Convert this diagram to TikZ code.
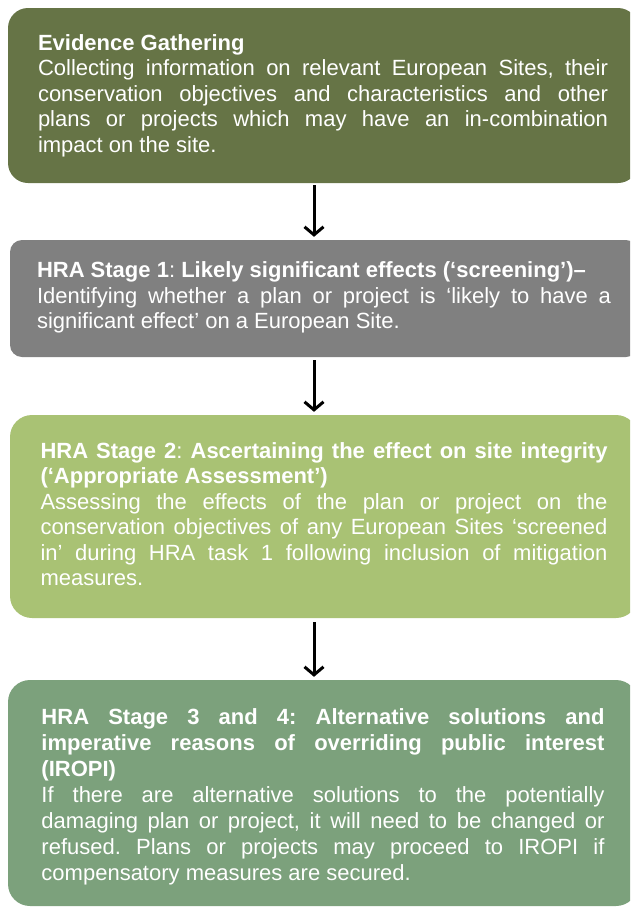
\documentclass[tikz,border=0pt]{standalone}
\usepackage{fontspec}
\setmainfont{Liberation Sans}
\usetikzlibrary{arrows.meta}

\definecolor{evidgreen}{RGB}{102,116,70}
\definecolor{stagegrey}{RGB}{128,128,128}
\definecolor{lightgreen}{RGB}{169,194,116}
\definecolor{sagegreen}{RGB}{124,161,124}

\tikzset{
	box/.style={rounded corners=20pt, text=white, align=justify, inner ysep=0pt,
		font=\fontsize{22}{25.5}\selectfont\frenchspacing},
	flow/.style={line width=3pt, -{Straight Barb[length=8pt,width=19pt,line width=3pt]}}
}

\begin{document}
\begin{tikzpicture}[x=1pt,y=-1pt]
		\clip (0,0) rectangle (630,908);
		\node[box, fill=evidgreen, text width=570pt, inner xsep=30pt, minimum height=175pt] (evid) at (323,95.5)
			{\textbf{Evidence Gathering}\\
			Collecting information on relevant European Sites, their\linebreak
			conservation objectives and characteristics and other\linebreak
			plans or projects which may have an in-combination\linebreak
			impact on the site.};
		\node[box, fill=stagegrey, rounded corners=12pt, text width=574pt, inner xsep=27pt, minimum height=117pt] (screen) at (324,298.5)
			{\textbf{HRA Stage 1}: \textbf{Likely significant effects (‘screening’)–}\\
			Identifying whether a plan or project is ‘likely to have a\linebreak
			significant effect’ on a European Site.\par\vspace*{2pt}};
		\node[box, fill=lightgreen, rounded corners=22pt, text width=567pt, inner xsep=30.5pt, minimum height=203pt] (appr) at (324,516.5)
			{\textbf{HRA Stage 2}: \textbf{Ascertaining the effect on site integrity\linebreak
			(‘Appropriate Assessment’)}\\
			Assessing the effects of the plan or project on the\linebreak
			conservation objectives of any European Sites ‘screened\linebreak
			in’ during HRA task 1 following inclusion of mitigation\linebreak
			measures.\par\vspace*{5pt}};
		\node[box, fill=sagegreen, rounded corners=22pt, text width=563pt, inner xsep=33.5pt, minimum height=226pt,
			font=\fontsize{22}{26}\selectfont\frenchspacing] (iropi) at (323,793)
			{\rule{0pt}{23.5pt}\textbf{HRA Stage 3 and 4: Alternative solutions and\linebreak
			imperative reasons of overriding public interest\linebreak
			(IROPI)}\\
			If there are alternative solutions to the potentially\linebreak
			damaging plan or project, it will need to be changed or\linebreak
			refused. Plans or projects may proceed to IROPI if\linebreak
			compensatory measures are secured.};
		% arrows between the stages
		\draw[flow] ([xshift=-9pt,yshift=-2pt]evid.south) -- ([xshift=-10pt,yshift=3pt]screen.north);
		\draw[flow] ([xshift=-10pt,yshift=-3pt]screen.south) -- ([xshift=-10pt,yshift=3pt]appr.north);
		\draw[flow] ([xshift=-10pt,yshift=-4pt]appr.south) -- ([xshift=-9pt,yshift=3pt]iropi.north);
\end{tikzpicture}
\end{document}
